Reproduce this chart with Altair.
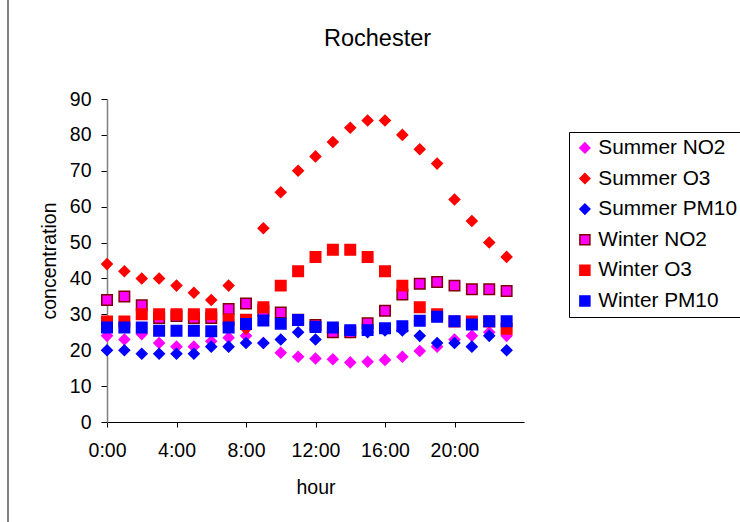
import altair as alt
import pandas as pd

hours = list(range(24))
series = ["Summer NO2", "Summer O3", "Summer PM10", "Winter NO2", "Winter O3", "Winter PM10"]

summer_no2 = [24, 23, 24.5, 22, 21, 21, 22.5, 23.5, 24, 22, 19.3, 18.2, 17.7, 17.5, 16.6, 16.8, 17.3, 18.2, 19.8, 21, 23, 24, 25, 24]
summer_o3 = [44, 42, 40, 40, 38, 36, 34, 38, 26, 54, 64, 70, 74, 78, 82, 84, 84, 80, 76, 72, 62, 56, 50, 46]
summer_pm10 = [20, 20, 19, 19, 19, 19, 21, 21, 22, 22, 23, 25, 23, 25, 25, 25, 25.5, 25.5, 24, 22, 22, 21, 24, 20]
winter_no2 = [34, 35, 32.5, 29, 29.5, 29, 29, 31.5, 33, 31, 30.5, 28.5, 27, 25, 25, 27.5, 31, 35.5, 38.5, 39, 38, 37, 37, 36.5]
winter_o3 = [28, 28, 30, 30, 30, 30, 30, 28.5, 28.5, 32, 38, 42, 46, 48, 48, 46, 42, 38, 32, 30, 28, 28, 28, 26]
winter_pm10 = [26.3, 26.3, 26.3, 25.4, 25.4, 25.4, 25.3, 26.3, 27.3, 28.3, 27.4, 28.4, 26.5, 26.3, 25.6, 25.6, 26.1, 26.7, 28.2, 29.3, 28.1, 27.2, 28.1, 28.1]

fills = ["#FF00FF", "#FF0000", "#0000FF", "#FF00FF", "#FF0000", "#0000FF"]
strokes = ["#FF00FF", "#FF0000", "#0000FF", "#800000", "#FF0000", "#0000FF"]
shapes = ["diamond", "diamond", "diamond", "square", "square", "square"]
x_ticks = [0, 4, 8, 12, 16, 20]
y_ticks = list(range(0, 91, 10))

rows = []
for i, (name, vals) in enumerate(zip(series, [summer_no2, summer_o3, summer_pm10, winter_no2, winter_o3, winter_pm10])):
    for h, v in zip(hours, vals):
        rows.append({"series": name, "hour": h, "value": v, "order": i})
df = pd.DataFrame(rows)

FONT = "Liberation Sans"

leg = alt.Legend(
    title=None, orient="none", legendX=462, legendY=33, direction="vertical",
    labelFont=FONT, labelFontSize=20.8, labelColor="black", labelOffset=3,
    symbolSize=100, symbolStrokeWidth=1.5, rowPadding=8.6, padding=5.5,
    strokeColor="black", fillColor="white",
)

points = alt.Chart(df).mark_point(filled=True, size=110, strokeWidth=1.5, opacity=1).encode(
    x=alt.X("hour:Q", scale=alt.Scale(domain=[0, 24], nice=False),
            axis=alt.Axis(values=x_ticks, labelExpr="datum.value + ':00'", title="hour", grid=False,
                          domainColor="black", tickColor="black", tickSize=5, labelPadding=14,
                          titlePadding=19, labelFlush=False)),
    y=alt.Y("value:Q", scale=alt.Scale(domain=[0, 90], nice=False),
            axis=alt.Axis(values=y_ticks, title="concentration", grid=False,
                          domainColor="#808080", domainWidth=1.5, tickColor="black", tickSize=6,
                          labelPadding=10, titlePadding=10, labelFlush=False)),
    shape=alt.Shape("series:N", scale=alt.Scale(domain=series, range=shapes), legend=leg),
    fill=alt.Fill("series:N", scale=alt.Scale(domain=series, range=fills), legend=leg),
    stroke=alt.Stroke("series:N", scale=alt.Scale(domain=series, range=strokes), legend=leg),
    order=alt.Order("order:Q"),
)

border = alt.Chart(pd.DataFrame({"a": [0]})).mark_rule(color="black", strokeWidth=1).encode(
    x=alt.value(-99), y=alt.value(-99), y2=alt.value(423)
)

chart = alt.layer(border, points).properties(
    width=417, height=323, background="white",
    title=alt.Title("Rochester", font=FONT, fontSize=23.5, fontWeight="normal", color="black",
                    anchor="middle", dx=62, offset=-70, baseline="alphabetic"),
    autosize=alt.AutoSizeParams(type="none"),
    padding={"left": 107, "top": 99, "right": 216, "bottom": 100},
).configure_view(stroke=None).configure_axis(
    labelFont=FONT, labelFontSize=19.5, labelColor="black",
    titleFont=FONT, titleFontSize=19.5, titleFontWeight="normal", titleColor="black",
)

chart.save("out.html", embed_options={"renderer": "svg", "actions": False})
